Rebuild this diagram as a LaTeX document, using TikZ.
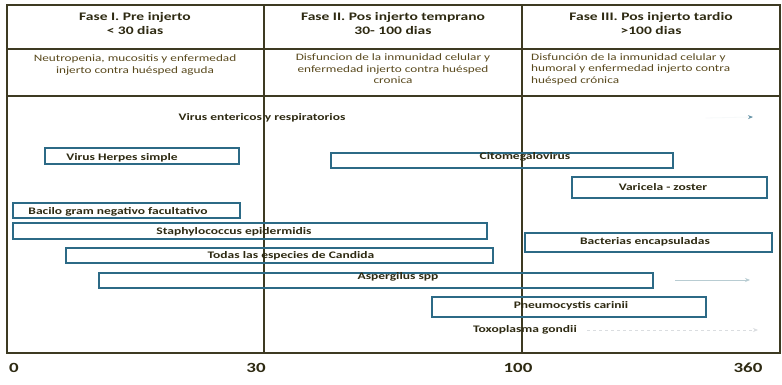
\documentclass[tikz,border=0pt]{standalone}
\usepackage{fontspec}
\setmainfont{Carlito}[FakeStretch=1.35]
\usetikzlibrary{arrows.meta}
\definecolor{frame}{HTML}{3D3A22}
\definecolor{barc}{HTML}{2C6A86}
\definecolor{txt}{HTML}{2E2A12}
\definecolor{subc}{HTML}{5A4A1E}
\definecolor{faintc}{HTML}{B8CCD2}
\definecolor{faintd}{HTML}{DADDE0}
\begin{document}
\begin{tikzpicture}[x=1pt,y=-1pt,
 frm/.style={draw=frame,line width=1.1pt},
 bar/.style={draw=barc,line width=1.8pt,inner sep=0,anchor=north west},
 lbl/.style={font=\fontsize{10}{11}\selectfont\bfseries,text=txt,inner sep=0},
 hdr/.style={font=\fontsize{11.5}{14}\selectfont\bfseries,text=txt,align=center,inner sep=0},
 subt/.style={font=\fontsize{9.8}{11.5}\selectfont,text=subc,inner sep=0},
 axlbl/.style={font=\fontsize{14}{14}\selectfont\bfseries,text=txt,inner sep=0}]
\useasboundingbox[fill=white] (0,0) rectangle (782,385);
% table frame
\draw[frm] (7,5) rectangle (780,353);
\draw[frm] (7,49) -- (780,49);
\draw[frm] (7,96) -- (780,96);
\draw[frm] (264,5) -- (264,353);
\draw[frm] (522,5) -- (522,353);
% headers
\node[hdr] (h1) at (135,24) {Fase I. Pre injerto\\< 30 dias};
\node[hdr] (h2) at (393,24) {Fase II. Pos injerto temprano\\30- 100 dias};
\node[hdr] (h3) at (651,24) {Fase III. Pos injerto tardio\\>100 dias};
\node[subt,align=center] (s1) at (135,65) {Neutropenia, mucositis y enfermedad\\injerto contra huésped aguda};
\node[subt,align=center] (s2) at (393,69) {Disfuncion de la inmunidad celular y\\enfermedad injerto contra huésped\\cronica};
\node[subt,align=left,anchor=north west] (s3) at (531,53) {Disfunción de la inmunidad celular y\\humoral y enfermedad injerto contra\\huésped crónica};
% bars
\node[bar,minimum width=194pt,minimum height=16pt] (hsv) at (44,147) {};
\node[bar,minimum width=342pt,minimum height=15pt] (cmv) at (330,152) {};
\node[bar,minimum width=195pt,minimum height=21pt] (vzv) at (571,176) {};
\node[bar,minimum width=227pt,minimum height=15pt] (bgn) at (12,202) {};
\node[bar,minimum width=474pt,minimum height=16pt] (sep) at (12,222) {};
\node[bar,minimum width=247pt,minimum height=19pt] (bec) at (524,232) {};
\node[bar,minimum width=427pt,minimum height=15pt] (can) at (65,247) {};
\node[bar,minimum width=554pt,minimum height=15pt] (asp) at (98,272) {};
\node[bar,minimum width=274pt,minimum height=20pt] (pcp) at (431,296) {};
% labels
\node[lbl] (tver) at (262,118) {Virus entericos y respiratorios};
\node[lbl] (thsv) at (122,158) {Virus Herpes simple};
\node[lbl] (tcmv) at (525,157) {Citomegalovirus};
\node[lbl] (tvzv) at (663,187) {Varicela - zoster};
\node[lbl] (tbgn) at (118,212) {Bacilo gram negativo facultativo};
\node[lbl] (tsep) at (234,232) {Staphylococcus epidermidis};
\node[lbl] (tbec) at (645,242) {Bacterias encapsuladas};
\node[lbl] (tcan) at (291,256) {Todas las especies de Candida};
\node[lbl] (tasp) at (398,277) {Aspergilus spp};
\node[lbl] (tpcp) at (571,306) {Pneumocystis carinii};
\node[lbl] (ttox) at (525,330) {Toxoplasma gondii};
% faint arrows
\coordinate (verend) at (753,117);
\draw[white!96!barc,line width=0.8pt,-{Stealth[length=5pt,width=4pt,color=barc!70]}] (tver.east)++(360,0) -- (verend);
\coordinate (asp1) at (675,280);
\coordinate (aspend) at (750,280);
\draw[faintc,line width=1pt,-{Stealth[length=5pt,width=4pt]}] (asp1) -- (aspend);
\coordinate (toxend) at (758,330);
\draw[faintd,line width=1pt,dashed,-{Stealth[length=5pt,width=4pt]}] (ttox.east)++(10,0) -- (toxend);
% axis labels
\node[axlbl] (a0) at (14,368) {0};
\node[axlbl] (a30) at (256,368) {30};
\node[axlbl] (a100) at (518,368) {100};
\node[axlbl] (a360) at (748,368) {360};
\end{tikzpicture}
\end{document}
